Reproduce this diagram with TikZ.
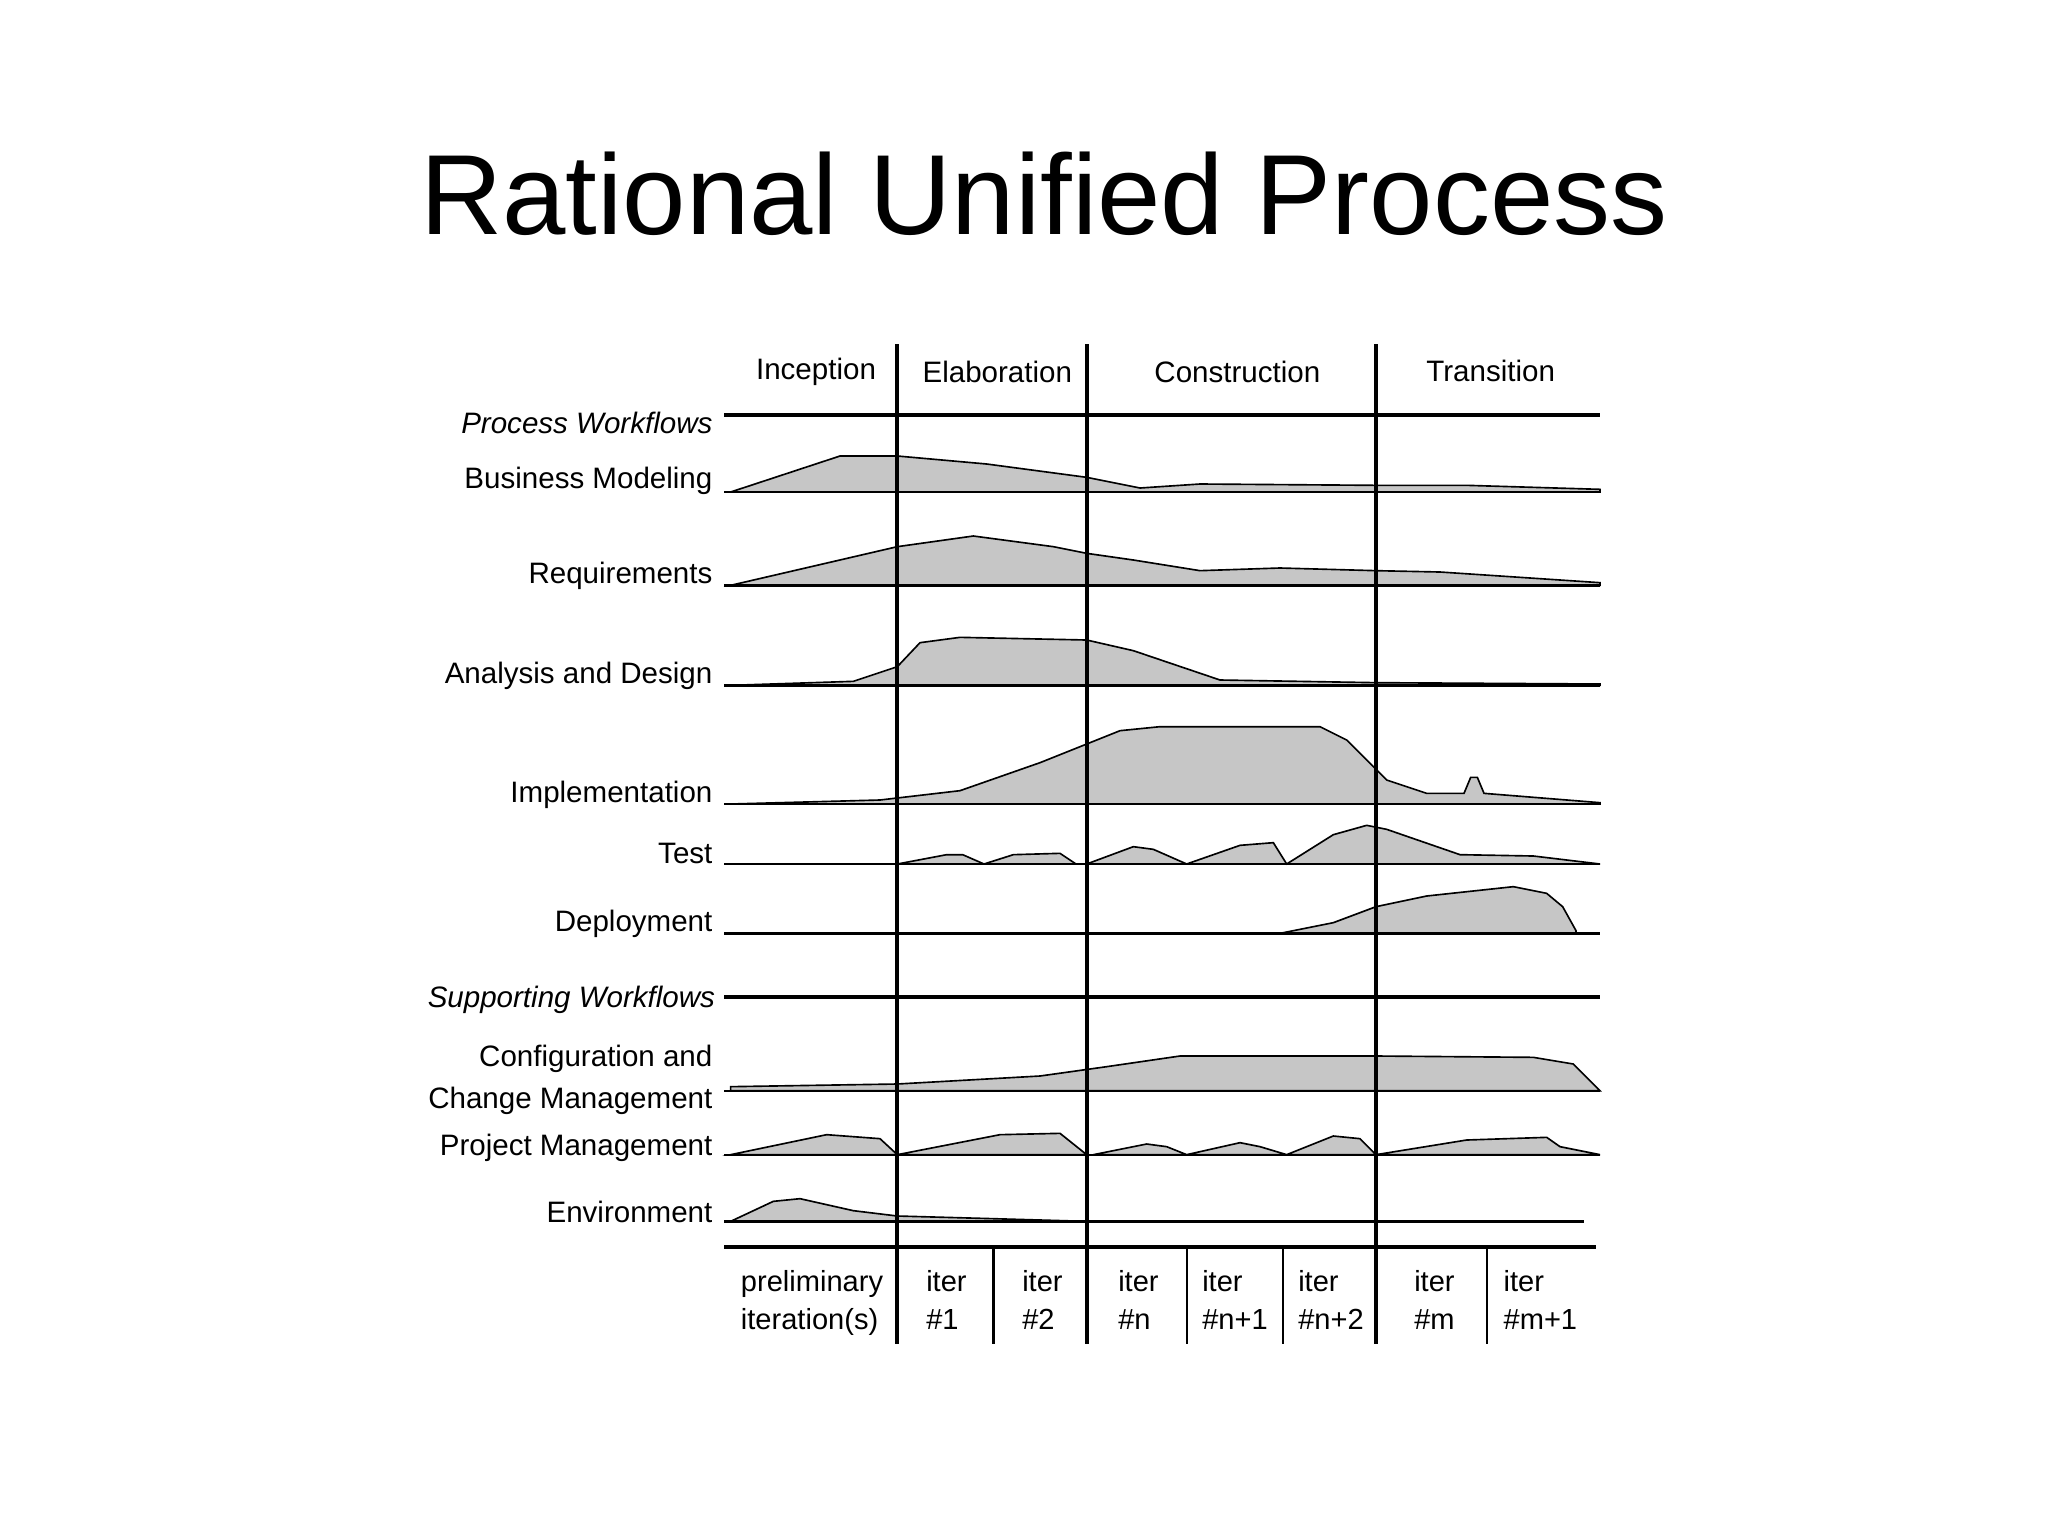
\documentclass[tikz,border=0pt]{standalone}
\usepackage{fontspec}
\setmainfont{Liberation Sans}
\begin{document}
\begin{tikzpicture}[x=0.01cm,y=-0.01cm,
  lbl/.style={anchor=east,inner sep=0pt,font=\fontsize{6.3}{8}\selectfont},
  hdr/.style={inner sep=0pt,font=\fontsize{6.3}{8}\selectfont},
  itl/.style={inner sep=0pt,align=left,anchor=north west,font=\fontsize{6.2}{8.2}\selectfont},
  curve/.style={fill=gray!45,draw=black,line width=0.35pt},
  base/.style={line width=0.5pt},
  phase/.style={line width=0.8pt}]
\useasboundingbox (0,0) rectangle (1536,1151);
\node[font=\fontsize{24.3}{28}\selectfont] (title) at (783,145) {Rational Unified Process};
% headers
\node[hdr] (h1) at (612,279) {Inception};
\node[hdr] (h2) at (748,279) {Elaboration};
\node[hdr] (h3) at (928,279) {Construction};
\node[hdr] (h4) at (1118,278) {Transition};
% curves
\draw[curve] (548,369) -- (630,342) -- (673,342) -- (740,348) -- (815,358) -- (855,366) -- (900,363) -- (1032,364) -- (1100,364) -- (1200,367) -- (1200,369) -- cycle;
\draw[curve] (548,439) -- (673,410) -- (730,402) -- (790,410) -- (815,415) -- (850,420) -- (900,428) -- (960,426) -- (1032,428) -- (1080,429) -- (1200,437) -- (1200,439) -- cycle;
\draw[curve] (548,514) -- (640,511) -- (673,500) -- (690,482) -- (720,478) -- (815,480) -- (850,488) -- (915,510) -- (1032,512) -- (1200,513) -- (1200,514) -- cycle;
\draw[curve] (548,603) -- (660,600) -- (720,593) -- (780,572) -- (840,548) -- (870,545) -- (990,545) -- (1010,555) -- (1040,585) -- (1070,595) -- (1098,595) -- (1103,583) -- (1108,583) -- (1113,595) -- (1200,602) -- (1200,603) -- cycle;
\draw[curve] (673,648) -- (710,641) -- (722,641) -- (738,648) -- (760,641) -- (795,640) -- (807,648) -- cycle;
\draw[curve] (815,648) -- (850,635) -- (865,637) -- (890,648) -- (930,634) -- (955,632) -- (965,648) -- (1000,626) -- (1025,619) -- (1040,622) -- (1095,641) -- (1150,642) -- (1200,648) -- cycle;
\draw[curve] (960,700) -- (1000,692) -- (1032,680) -- (1070,672) -- (1135,665) -- (1160,670) -- (1172,680) -- (1182,698) -- (1182,700) -- cycle;
\draw[curve] (548,818) -- (548,815) -- (673,813) -- (780,807) -- (830,800) -- (885,792) -- (1032,792) -- (1150,793) -- (1180,798) -- (1200,818) -- cycle;
\draw[curve] (548,866) -- (620,851) -- (660,854) -- (673,866) -- cycle;
\draw[curve] (673,866) -- (750,851) -- (795,850) -- (815,866) -- cycle;
\draw[curve] (820,866) -- (860,858) -- (875,860) -- (890,866) -- (930,857) -- (945,860) -- (965,866) -- (1000,852) -- (1020,854) -- (1032,866) -- cycle;
\draw[curve] (1032,866) -- (1100,855) -- (1160,853) -- (1170,860) -- (1200,866) -- cycle;
\draw[curve] (548,916) -- (580,901) -- (600,899) -- (640,908) -- (673,912) -- (745,914) -- (815,916) -- cycle;
% baselines
\foreach \y in {369,439,514,603,648,700,818,866} \draw[base] (543,\y) -- (1200,\y);
\draw[base] (543,916) -- (1188,916);
\draw[phase] (543,311) -- (1200,311);
\draw[phase] (543,748) -- (1200,748);
\draw[phase] (543,935) -- (1197,935);
% phase lines
\foreach \x in {673,815,1032} \draw[phase] (\x,258) -- (\x,1008);
\foreach \x in {745,890,962,1115} \draw[base] (\x,935) -- (\x,1008);
% labels
\node[lbl,font=\fontsize{6.3}{8}\selectfont\itshape] (pw) at (535,317) {Process Workflows};
\node[lbl] (bm) at (535,361) {Business Modeling};
\node[lbl] (rq) at (535,432) {Requirements};
\node[lbl] (ad) at (535,507) {Analysis and Design};
\node[lbl] (im) at (535,596) {Implementation};
\node[lbl] (ts) at (535,640) {Test};
\node[lbl] (dp) at (535,693) {Deployment};
\node[lbl,font=\fontsize{6.3}{8}\selectfont\itshape] (sw) at (537,750) {Supporting Workflows};
\node[lbl] (cm1) at (535,794) {Configuration and};
\node[lbl] (cm2) at (535,826) {Change Management};
\node[lbl] (pm) at (535,861) {Project Management};
\node[lbl] (en) at (535,909) {Environment};
% iterations
\node[itl] (i0) at (555,952) {preliminary\\iteration(s)};
\node[itl] (i1) at (694,952) {iter\\\#1};
\node[itl] (i2) at (766,952) {iter\\\#2};
\node[itl] (i3) at (838,952) {iter\\\#n};
\node[itl] (i4) at (901,952) {iter\\\#n+1};
\node[itl] (i5) at (973,952) {iter\\\#n+2};
\node[itl] (i6) at (1060,952) {iter\\\#m};
\node[itl] (i7) at (1127,952) {iter\\\#m+1};
\end{tikzpicture}
\end{document}
